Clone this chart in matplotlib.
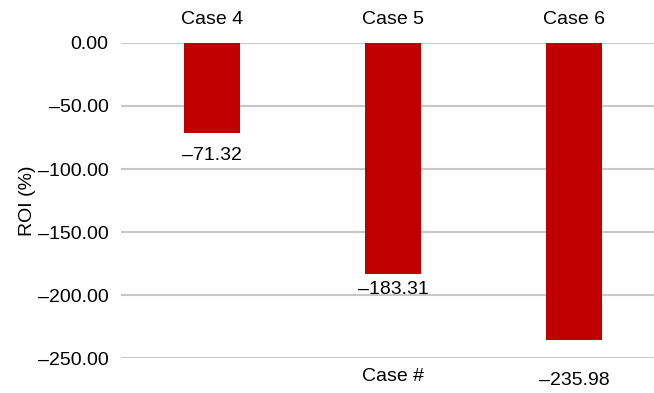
import matplotlib.pyplot as plt
from matplotlib.transforms import blended_transform_factory

# ROI per case
cases = ['Case 4', 'Case 5', 'Case 6']
roi = [-71.32, -183.31, -235.98]
yticks = [0, -50, -100, -150, -200, -250]

# how far below each bar end its value label sits (points)
label_offsets = [16.5, 11, 29]

plt.rcParams['font.family'] = ['Liberation Sans', 'DejaVu Sans']
fs = 14

fig = plt.figure(figsize=(6.54, 3.93), dpi=100)
ax = fig.add_axes([0.185, 0.089, 0.815, 0.8016])

x = range(len(cases))
ax.bar(x, roi, width=0.31, color='#c00000', zorder=3)

ax.set_xlim(-0.5, 2.44)
ax.set_ylim(-250, 0)
ax.set_yticks(yticks)
ax.set_yticklabels(['%.2f' % t if t == 0 else '\u2013%.2f' % -t for t in yticks])
ax.yaxis.grid(True, color='#c8c8c8', linewidth=1.5, zorder=0)

# category labels sit above the zero line
ax.xaxis.tick_top()
ax.set_xticks(list(x))
ax.set_xticklabels(cases)
ax.tick_params(axis='x', length=0, pad=11, labelsize=fs)
ax.tick_params(axis='y', length=0, pad=9, labelsize=fs)

for side in ['top', 'bottom', 'left', 'right']:
    ax.spines[side].set_visible(False)

for i, v in enumerate(roi):
    ax.annotate('\u2013%.2f' % -v, xy=(i, v), xytext=(0, -label_offsets[i]),
                textcoords='offset points', ha='center', va='center',
                fontsize=fs, annotation_clip=False)

trans = blended_transform_factory(ax.transData, ax.transAxes)
ax.text(1, -0.06, 'Case #', transform=trans, ha='center', va='center', fontsize=fs)

ax.set_ylabel('ROI (%)', fontsize=fs, labelpad=1)

fig.savefig('out.png', dpi=100)
